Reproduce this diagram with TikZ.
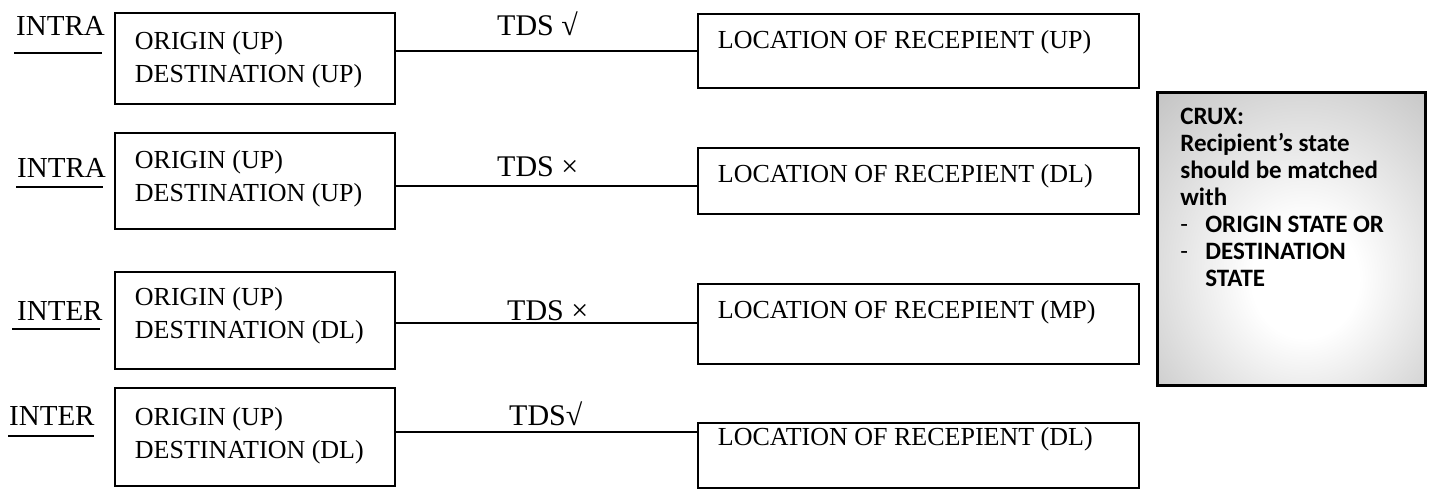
\documentclass[tikz,border=0pt]{standalone}
\usepackage{fontspec}
\setmainfont{Liberation Serif}
\newfontfamily\cruxfont{Carlito}
\pgfdeclareradialshading{cruxfade}{\pgfpoint{3bp}{-8bp}}{color(0bp)=(white); color(10bp)=(white); color(50bp)=(black!32); color(72bp)=(black!42)}
\begin{document}
\begin{tikzpicture}[x=1pt, y=-1pt,
  every node/.style={inner sep=0pt},
  leftbox/.style={draw, line width=1.8pt, anchor=north west, inner xsep=20pt, font=\fontsize{26}{33}\selectfont},
  rightbox/.style={draw, line width=1.8pt, anchor=north west, inner xsep=20pt, font=\fontsize{26}{33}\selectfont},
  kind/.style={anchor=base west, font=\fontsize{29}{34}\selectfont},
  tds/.style={anchor=base west, font=\fontsize{30}{35}\selectfont},
  link/.style={line width=1.6pt},
  uline/.style={line width=1.3pt}]
\useasboundingbox (0,0) rectangle (1429,488);

\node[kind] (k1) at (16,35) {INTRA};
\node[kind] (k2) at (17,177) {INTRA};
\node[kind] (k3) at (17,320) {INTER};
\node[kind] (k4) at (9,425) {INTER};
\draw[uline] ([shift={(-2,18)}]k1.base west) -- ([shift={(-3,18)}]k1.base east);
\draw[uline] ([shift={(-1,10)}]k2.base west) -- ([shift={(-3,10)}]k2.base east);
\draw[uline] ([shift={(-5,9)}]k3.base west) -- ([shift={(-3,9)}]k3.base east);
\draw[uline] ([shift={(-1,11)}]k4.base west) -- ([shift={(-1,11)}]k4.base east);

\node[leftbox, text height=37pt, text depth=54pt] (lb1) at (114,12) {\parbox[t]{240pt}{ORIGIN (UP)\\DESTINATION (UP)}};
\node[leftbox, text height=36pt, text depth=60pt] (lb2) at (114,132) {\parbox[t]{240pt}{ORIGIN (UP)\\DESTINATION (UP)}};
\node[leftbox, text height=34pt, text depth=63pt] (lb3) at (114,271) {\parbox[t]{240pt}{ORIGIN (UP)\\DESTINATION (DL)}};
\node[leftbox, text height=38pt, text depth=60pt] (lb4) at (114,387) {\parbox[t]{240pt}{ORIGIN (UP)\\DESTINATION (DL)}};

\node[rightbox, text height=35pt, text depth=39pt] (rb1) at (697,13) {\makebox[401pt][l]{LOCATION OF RECEPIENT (UP)}};
\node[rightbox, text height=35pt, text depth=31pt] (rb2) at (697,147) {\makebox[401pt][l]{LOCATION OF RECEPIENT (DL)}};
\node[rightbox, text height=35pt, text depth=45pt] (rb3) at (697,283) {\makebox[401pt][l]{LOCATION OF RECEPIENT (MP)}};
\node[rightbox, text height=23pt, text depth=42pt] (rb4) at (697,422) {\makebox[401pt][l]{LOCATION OF RECEPIENT (DL)}};

\node[tds] (t1) at (497,35) {TDS √};
\node[tds] (t2) at (497,176) {TDS ×};
\node[tds] (t3) at (507,320) {TDS ×};
\node[tds] (t4) at (509,425) {TDS√};

\draw[link] (lb1.east |- 0,51) -- (rb1.west |- 0,51);
\draw[link] (lb2.east |- 0,186) -- (rb2.west |- 0,186);
\draw[link] (lb3.east |- 0,323) -- (rb3.west |- 0,323);
\draw[link] (lb4.east |- 0,432) -- (rb4.west |- 0,432);

\node[draw, line width=2.6pt, anchor=north west, shade, shading=cruxfade, inner xsep=23pt,
  text height=32pt, text depth=261pt, font=\cruxfont\bfseries\fontsize{25}{27}\selectfont] (crux) at (1156,91)
  {\parbox[t]{222pt}{\raggedright CRUX:\\ Recipient’s state\\ should be matched\\ with\\
   \makebox[25pt][l]{\mdseries -}ORIGIN STATE OR\\ \makebox[25pt][l]{\mdseries -}DESTINATION\\ \hspace*{25pt}STATE}};
\end{tikzpicture}
\end{document}
